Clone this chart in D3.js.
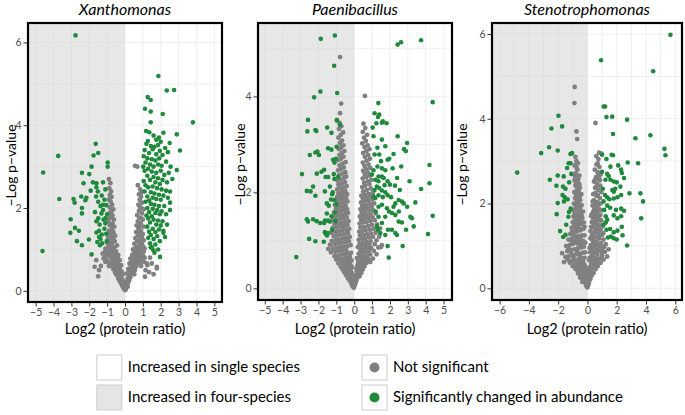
<!DOCTYPE html>
<html><head><meta charset="utf-8">
<script src="https://cdn.jsdelivr.net/npm/d3@7"></script>
<style>body{margin:0;background:#fff} svg{display:block} text{font-family:Lato,"Open Sans",sans-serif}</style>
</head><body>
<svg id="chart" width="685" height="415"></svg>
<script>
// ---------------- DATA ----------------
const titles = ["Xanthomonas", "Paenibacillus", "Stenotrophomonas"];
const xTitle = "Log2 (protein ratio)";
const yTitle = "\u2212Log p\u2212value";
const xTicksXan = [-5,-4,-3,-2,-1,0,1,2,3,4,5];
const xTicksPae = [-5,-4,-3,-2,-1,0,1,2,3,4,5];
const xTicksSte = [-6,-4,-2,0,2,4,6];
const yTicksXan = [0,2,4,6];
const yTicksPae = [0,2,4];
const yTicksSte = [0,2,4,6];
const legendShade = ["Increased in single species", "Increased in four-species"];
const legendPoint = ["Not significant", "Significantly changed in abundance"];

const xanGrey = [[0,0.02],[-0.05,0.05],[0.04,0.03],[-0.1,0.08],[0.08,0.09],[-0.02,0.12],[0.12,0.14],[-0.16,0.13],[-0.22,0.18],[0.18,0.2],[0.05,0.18],[-0.08,0.22],[-0.3,0.24],[0.24,0.26],[-0.15,0.27],[0.14,0.3],[-0.38,0.3],[0.3,0.33],[-0.25,0.35],[0.22,0.38],[-0.45,0.38],[-0.12,0.4],[0.38,0.41],[0.1,0.42],[-0.33,0.43],[-0.55,0.45],[0.45,0.46],[-0.2,0.47],[0.28,0.48],[-0.42,0.5],[0.55,0.5],[-0.65,0.52],[0.18,0.53],[-0.3,0.55],[0.4,0.55],[-0.52,0.57],[0.62,0.58],[-0.75,0.6],[0.33,0.6],[-0.22,0.62],[0.5,0.63],[-0.6,0.64],[0.75,0.65],[-0.85,0.66],[0.25,0.66],[-0.4,0.68],[0.58,0.69],[-0.95,0.7],[0.85,0.7],[-0.7,0.72],[0.42,0.72],[-0.3,0.74],[0.68,0.75],[-1.05,0.76],[0.95,0.77],[-0.5,0.78],[0.3,0.78],[-0.8,0.8],[0.55,0.8],[-1.15,0.82],[0.78,0.82],[-0.62,0.84],[1.0,0.85],[-0.38,0.86],[0.4,0.86],[-0.92,0.88],[0.65,0.88],[-1.25,0.9],[0.88,0.9],[-0.72,0.92],[0.5,0.92],[-0.5,0.95],[1.05,0.95],[-1.0,0.96],[0.72,0.97],[-0.82,1.0],[0.45,1.0],[-1.1,1.02],[0.9,1.02],[-0.6,1.05],[0.6,1.05],[-0.92,1.08],[1.0,1.08],[-0.45,1.1],[0.78,1.1],[-0.75,1.13],[0.52,1.14],[-1.0,1.16],[0.95,1.16],[-0.58,1.2],[0.68,1.2],[-0.85,1.22],[1.05,1.22],[-0.68,1.27],[0.58,1.27],[-0.95,1.3],[0.85,1.3],[-0.55,1.33],[0.72,1.34],[-0.8,1.37],[1.0,1.37],[-0.65,1.42],[0.62,1.42],[-0.9,1.45],[0.9,1.45],[-0.72,1.5],[0.75,1.5],[-0.6,1.55],[1.05,1.55],[-0.85,1.58],[0.65,1.58],[-0.7,1.63],[0.88,1.63],[-0.95,1.68],[0.72,1.68],[-0.62,1.72],[1.0,1.72],[-0.8,1.77],[0.8,1.77],[-0.7,1.82],[0.68,1.83],[-0.88,1.87],[0.95,1.87],[-0.75,1.92],[0.78,1.93],[-0.65,1.97],[1.05,1.97],[-0.85,2.02],[0.85,2.02],[-0.72,2.08],[0.75,2.08],[-0.8,2.15],[0.95,2.13],[-0.9,2.2],[0.82,2.2],[-0.75,2.27],[0.9,2.27],[-0.85,2.32],[0.78,2.33],[-0.78,2.4],[0.92,2.4],[-0.88,2.48],[0.85,2.45],[-0.82,2.6],[-0.9,2.7],[0.56,3.02],[0.69,3.0],[0.72,2.55],
[-1.61,0.74],[-1.7,0.58],[-1.45,0.5],[-1.35,0.6],[-1.5,0.35],[1.78,0.54],[1.5,0.66],[1.35,0.45],[1.6,0.4],[1.25,0.62],[1.15,0.5],[1.4,0.8],[1.12,0.34],[1.78,0.58],[1.22,0.66],
[-0.2,0.3],[0.2,0.25],[-0.35,0.5],[0.3,0.52],[-0.48,0.62],[0.45,0.65],[-0.55,0.72],[0.6,0.75],[-0.68,0.8],[0.72,0.83],[-0.78,0.88],[0.82,0.9],[-0.85,0.95],[0.62,0.96],[-0.7,1.0],[0.85,1.0],[-0.78,1.06],[0.7,1.07],[-0.88,1.12],[0.88,1.12],[-0.7,1.18],[0.8,1.2],[-0.78,1.3],[0.95,1.28],[-0.88,1.4],[0.78,1.4],[-0.78,1.6],[0.82,1.55],[-0.86,1.75],[0.92,1.75],[-0.8,1.98],[0.92,2.0],[-0.82,2.25],[0.88,2.35],[0.15,0.1],[-0.08,0.15],[0.1,0.22],[-0.5,0.4],[0.52,0.4],[-0.9,0.6],[0.9,0.6],[-1.1,0.7],[1.05,0.7],[-1.2,0.78],[1.1,0.8],[-1.0,0.86],[-1.12,0.94],[1.1,1.02],[0.35,0.7],[-0.42,0.8],[0.48,0.85],[-0.55,0.9]];

const xanGreen = [[-2.77,6.17],[-4.58,2.86],[-3.74,3.26],[-3.68,2.22],[-4.62,0.96],[-1.64,3.55],[-1.76,3.27],[-1.5,3.33],[-0.97,3.1],[-0.97,3.0],[-1.87,3.0],[-2.0,2.82],[-2.41,2.85],[-1.23,2.62],[-1.8,2.62],[-2.32,2.6],[-1.6,2.6],[-1.92,2.42],[-1.6,2.5],[-1.52,2.4],[-2.88,2.22],[-2.82,2.13],[-2.45,2.28],[-2.16,2.25],[-2.22,2.19],[-1.62,2.28],[-1.5,2.15],[-1.37,2.05],[-1.23,2.08],[-1.05,2.07],[-1.23,1.95],[-2.41,2.0],[-2.41,1.87],[-1.32,1.87],[-1.5,1.75],[-3.04,1.73],[-1.08,1.76],[-1.6,1.68],[-1.42,1.6],[-1.1,1.63],[-2.8,1.52],[-2.58,1.45],[-3.06,1.4],[-1.6,1.41],[-1.45,1.3],[-1.3,1.36],[-2.02,1.24],[-2.69,1.2],[-1.37,1.25],[-1.55,1.18],[-2.41,1.1],[-1.4,1.1],[-1.87,0.88],[-1.15,1.5],[-1.05,1.38],[-1.2,1.72],[-1.0,1.85],[-1.3,2.3],[-1.1,2.45],[-1.45,1.45],[-1.28,1.15],[-1.02,1.2],[-1.68,1.9],[-1.15,2.2],
[1.87,5.19],[2.34,4.84],[2.75,4.85],[1.27,4.68],[1.44,4.61],[1.12,4.4],[1.44,4.33],[2.11,4.27],[3.8,4.07],[1.44,4.07],[2.9,3.78],[3.08,3.39],[2.9,2.92],
[1.18,3.86],[1.36,3.83],[2.15,3.82],[1.6,3.75],[1.9,3.7],[1.75,3.65],[2.5,3.57],[1.28,3.62],[2.0,3.6],
[1.2,3.55],[1.45,3.5],[1.65,3.48],[1.85,3.52],[2.25,3.45],[1.55,3.42],[1.1,3.4],[1.95,3.38],[2.4,3.35],[1.35,3.33],[1.75,3.3],[2.1,3.28],[1.05,3.25],
[1.25,3.2],[1.5,3.18],[1.7,3.15],[1.92,3.2],[2.3,3.12],[1.15,3.1],[1.4,3.05],[1.6,3.0],[1.85,3.05],[2.05,3.02],[2.55,3.0],[1.02,3.0],[1.3,2.95],
[1.1,2.9],[1.5,2.88],[1.75,2.85],[2.0,2.9],[2.2,2.8],[2.45,2.85],[1.25,2.78],[1.6,2.75],[1.85,2.72],[2.1,2.68],[1.4,2.68],[1.05,2.65],[2.35,2.62],[1.7,2.62],[1.95,2.58],[2.65,2.7],
[1.15,2.55],[1.3,2.5],[1.55,2.52],[1.8,2.48],[2.05,2.45],[2.3,2.42],[2.52,2.4],[1.1,2.4],[1.45,2.38],[1.65,2.35],[1.9,2.32],[2.15,2.3],[1.25,2.28],[1.55,2.25],[1.75,2.22],[2.0,2.2],[2.4,2.25],[1.35,2.18],[2.52,2.13],
[1.15,2.15],[1.45,2.1],[1.65,2.08],[1.9,2.05],[2.2,2.05],[1.25,2.0],[1.55,1.98],[1.8,1.95],[2.05,1.92],[2.52,1.95],[1.35,1.9],[1.7,1.88],[1.95,1.85],[2.3,1.85],[1.2,1.82],[1.5,1.8],
[1.3,1.75],[1.6,1.72],[1.85,1.7],[2.1,1.68],[1.4,1.65],[1.75,1.6],[2.0,1.58],[2.35,1.6],[1.25,1.55],[1.55,1.5],[1.9,1.48],[2.15,1.45],[1.35,1.43],[1.7,1.42],
[2.15,1.4],[1.45,1.35],[1.8,1.32],[2.24,1.3],[1.3,1.28],[1.6,1.25],[1.95,1.2],[1.4,1.15],[1.7,1.12],[1.5,1.05],[1.59,0.98],[1.44,1.05],[1.85,1.0],[1.96,0.82],[1.65,0.92]];

const paeGrey = [[-0.02,0.01],[-0.08,0.04],[0.03,0.06],[-0.14,0.08],[-0.05,0.1],[0.08,0.11],[-0.2,0.13],[-0.1,0.15],[0.12,0.16],[-0.28,0.18],[-0.02,0.19],
[-0.35,0.21],[-0.18,0.23],[-0.08,0.25],[-0.45,0.27],[-0.28,0.29],[-0.12,0.31],[-0.55,0.33],[-0.38,0.35],[-0.2,0.37],[-0.65,0.39],
[-0.48,0.41],[-0.3,0.42],[-0.12,0.44],[-0.75,0.45],[-0.58,0.47],[-0.4,0.49],[-0.22,0.5],[-0.88,0.52],[-0.68,0.54],[-0.5,0.55],[-0.32,0.57],[-0.15,0.58],[-1.0,0.6],
[-0.8,0.61],[-0.6,0.62],[-0.42,0.64],[-0.25,0.66],[-1.1,0.67],[-0.92,0.68],[-0.72,0.7],[-0.52,0.71],[-0.35,0.73],[-0.18,0.74],[-1.3,0.75],[-1.05,0.76],[-0.85,0.78],[-0.65,0.79],[-0.45,0.8],
[-1.45,0.82],[-1.2,0.83],[-0.98,0.84],[-0.78,0.86],[-0.58,0.87],[-0.38,0.88],[-0.2,0.9],[-1.35,0.91],[-1.1,0.92],[-0.9,0.94],[-0.7,0.95],[-0.5,0.96],[-0.3,0.98],[-1.25,0.99],
[-1.02,1.01],[-0.82,1.02],[-0.62,1.04],[-0.42,1.05],[-0.25,1.07],[-1.15,1.09],[-0.95,1.1],[-0.75,1.12],[-0.55,1.13],[-0.35,1.15],[-1.28,1.16],[-1.05,1.18],[-0.85,1.19],
[-0.65,1.21],[-0.45,1.22],[-0.28,1.24],[-1.2,1.26],[-0.98,1.27],[-0.78,1.29],[-0.58,1.3],[-0.38,1.32],[-1.1,1.34],[-0.9,1.35],[-0.7,1.37],[-0.5,1.38],[-0.32,1.4],
[-1.18,1.42],[-0.98,1.43],[-0.8,1.45],[-0.6,1.46],[-0.42,1.48],[-1.05,1.5],[-0.88,1.52],[-0.68,1.53],[-0.5,1.55],[-0.35,1.57],[-1.12,1.58],[-0.95,1.6],
[-0.75,1.61],[-0.55,1.63],[-0.4,1.65],[-1.02,1.67],[-0.85,1.68],[-0.65,1.7],[-0.48,1.72],[-1.08,1.74],[-0.92,1.76],[-0.72,1.77],[-0.55,1.79],
[-0.38,1.81],[-1.0,1.83],[-0.82,1.85],[-0.62,1.86],[-0.45,1.88],[-0.95,1.9],[-0.75,1.92],[-0.55,1.94],[-0.4,1.96],[-0.88,1.98],
[-0.68,2.01],[-0.5,2.03],[-0.95,2.06],[-0.78,2.08],[-0.6,2.1],[-0.42,2.13],[-0.88,2.16],[-0.7,2.18],[-0.52,2.21],[-0.92,2.24],[-0.75,2.27],[-0.58,2.3],[-0.45,2.33],[-0.85,2.36],[-0.68,2.39],
[-0.5,2.42],[-0.9,2.46],[-0.72,2.49],[-0.58,2.52],[-0.82,2.56],[-0.65,2.6],[-0.48,2.63],[-0.9,2.67],[-0.75,2.7],[-0.6,2.74],[-0.82,2.78],
[-0.68,2.82],[-0.55,2.86],[-0.85,2.9],[-0.72,2.94],[-0.6,2.98],[-0.8,3.03],[-0.68,3.08],[-0.88,3.14],[-0.75,3.2],[-0.62,3.25],
[-0.85,3.32],[-0.72,3.38],[-0.97,3.51],[-0.82,3.45],[-0.79,3.65],[-0.73,3.85],[-0.79,4.82],
[0.05,0.2],[0.18,0.22],[0.3,0.25],[0.1,0.28],[0.22,0.3],[0.4,0.32],[0.15,0.35],[0.3,0.37],[0.48,0.39],
[0.12,0.41],[0.25,0.43],[0.4,0.45],[0.58,0.46],[0.18,0.48],[0.35,0.5],[0.52,0.51],[0.7,0.53],[0.9,0.55],[0.22,0.56],[0.42,0.58],[0.62,0.59],
[0.8,0.61],[1.05,0.62],[0.15,0.63],[0.32,0.65],[0.5,0.66],[0.7,0.68],[0.9,0.7],[1.25,0.71],[0.25,0.72],[0.45,0.74],[0.62,0.75],[0.82,0.77],[1.1,0.78],[0.35,0.8],
[0.55,0.81],[0.75,0.83],[0.95,0.84],[1.35,0.85],[0.2,0.86],[0.42,0.88],[0.62,0.89],[0.85,0.9],[1.55,0.9],[1.15,0.92],[0.3,0.93],[0.5,0.95],[0.7,0.96],[0.92,0.98],[1.5,0.86],
[1.25,1.0],[0.25,1.01],[0.42,1.03],[0.62,1.04],[0.82,1.06],[1.05,1.07],[1.4,1.08],[0.32,1.1],[0.52,1.11],[0.72,1.13],[0.95,1.14],[1.2,1.16],[0.28,1.18],[0.45,1.19],
[0.65,1.21],[0.88,1.22],[1.1,1.24],[1.45,1.25],[0.35,1.27],[0.55,1.28],[0.78,1.3],[1.0,1.32],[1.28,1.33],[0.3,1.35],[0.48,1.37],[0.68,1.38],[0.9,1.4],
[1.15,1.42],[0.38,1.43],[0.58,1.45],[0.8,1.47],[1.02,1.48],[0.32,1.5],[0.5,1.52],[0.7,1.53],[0.92,1.55],[1.2,1.56],[0.42,1.58],[0.62,1.6],
[0.85,1.62],[1.05,1.63],[0.35,1.65],[0.55,1.67],[0.75,1.68],[0.98,1.7],[0.45,1.72],[0.65,1.74],[0.88,1.76],[1.12,1.77],[0.38,1.79],
[0.58,1.81],[0.78,1.83],[1.0,1.85],[0.48,1.87],[0.68,1.89],[0.9,1.91],[0.4,1.93],[0.6,1.95],[0.82,1.97],[1.05,1.99],
[0.5,2.02],[0.7,2.05],[0.92,2.08],[0.45,2.11],[0.62,2.14],[0.85,2.17],[0.55,2.2],[0.75,2.23],[0.95,2.26],[0.48,2.29],[0.68,2.32],[0.88,2.35],[0.58,2.38],
[0.78,2.41],[0.5,2.45],[0.68,2.48],[0.9,2.51],[0.58,2.55],[0.8,2.58],[0.48,2.62],[0.7,2.66],[0.88,2.7],[0.6,2.74],[0.78,2.78],
[0.5,2.82],[0.68,2.86],[0.85,2.9],[0.58,2.94],[0.75,2.98],[0.45,3.02],[0.65,3.07],[0.55,3.14],[0.72,3.2],[0.48,3.26],[0.62,3.34],[0.52,3.43],[0.6,4.01]];

const paeGreen = [[-1.87,5.2],[-1.08,5.27],[-1.12,4.64],[-1.89,4.1],[-2.24,3.98],[-0.95,4.07],[-2.58,3.51],[-2.62,3.27],[-2.17,3.3],[-2.12,3.28],[-1.51,3.35],[-1.27,3.24],[-0.97,3.5],[-0.8,3.41],[-2.48,2.78],[-2.17,2.83],[-2.06,2.85],[-1.97,2.78],[-1.46,2.92],[-1.27,2.89],[-1.18,2.68],[-1.1,2.62],[-2.92,2.38],[-2.09,2.39],[-1.83,2.43],[-1.68,2.47],[-1.6,2.32],[-1.46,2.32],[-1.14,2.38],[-1.1,2.28],[-0.9,2.32],[-2.65,2.03],[-2.44,2.02],[-2.3,2.12],[-2.17,1.93],[-1.64,2.02],[-1.36,2.12],[-1.23,1.96],[-1.12,1.84],[-1.53,1.77],[-1.42,1.72],[-1.53,1.56],[-1.64,1.41],[-1.68,1.36],[-1.27,1.5],[-1.08,1.58],[-2.65,1.44],[-2.58,1.39],[-2.3,1.44],[-2.1,1.4],[-1.9,1.36],[-1.46,1.41],[-1.36,1.39],[-2.52,1.03],[-2.17,0.98],[-1.7,0.97],[-1.64,1.17],[-1.58,1.13],[-1.52,1.1],[-1.46,1.15],[-3.24,0.65],[-1.23,1.22],[-1.05,1.4],[-1.02,2.7],[-0.98,2.95],[-1.2,2.0],[-1.0,1.75],[-1.3,1.85],
[2.43,5.08],[2.62,5.13],[3.74,5.17],[4.39,3.88],[1.35,3.86],[1.14,3.65],[1.4,3.62],[1.33,3.57],[1.55,3.45],[1.6,3.48],[1.24,3.44],[1.81,3.44],[1.03,3.35],[2.43,3.17],[2.96,3.03],[2.79,2.9],[2.89,2.86],[1.08,3.17],[1.55,3.1],[1.74,2.96],[1.3,2.93],[1.4,2.79],[2.2,2.8],[1.14,2.79],[1.87,2.68],[1.96,2.7],[2.63,2.54],[1.3,2.54],[1.55,2.5],[1.74,2.46],[1.08,2.46],[0.99,2.37],[1.36,2.33],[1.55,2.33],[1.65,2.3],[1.18,2.26],[1.36,2.23],[1.87,2.23],[2.0,2.16],[3.1,2.23],[1.27,2.12],[1.4,2.09],[1.14,2.05],[1.55,2.04],[2.28,2.14],[2.55,2.05],[1.74,2.0],[1.36,1.94],[1.08,1.91],[1.18,1.88],[1.87,1.94],[2.06,1.9],[2.49,1.84],[2.67,1.81],[2.3,1.77],[2.77,1.77],[2.96,1.7],[1.36,1.7],[1.55,1.74],[1.83,1.67],[3.42,1.79],[3.74,2.07],[4.21,2.57],[4.21,2.19],[2.11,1.57],[2.3,1.53],[1.74,1.49],[1.36,1.49],[3.14,1.49],[3.23,1.46],[2.49,1.39],[2.67,1.37],[4.39,1.51],[3.33,1.29],[2.9,1.22],[1.55,1.36],[1.89,1.22],[2.11,1.22],[1.46,1.15],[1.74,1.11],[4.13,1.13],[2.71,0.88],[1.87,0.88],[1.93,0.64],[1.27,1.29],[1.33,1.22],[2.3,1.15],[2.39,1.11],[1.95,1.6],[2.2,1.7],[1.6,1.9],[2.4,2.3],[1.2,1.6],[1.7,2.15],[2.15,2.5],[1.5,2.65],[2.5,1.6]];

const steGrey = [[0,0.02],[-0.06,0.05],[0.05,0.07],[-0.12,0.1],[-0.03,0.12],[0.1,0.13],[-0.2,0.16],[-0.08,0.18],[0.15,0.2],[-0.28,0.22],[-0.15,0.24],[-0.38,0.28],[-0.22,0.3],[-0.08,0.32],[-0.48,0.34],[-0.3,0.36],[-0.15,0.38],[-0.6,0.4],[-0.42,0.42],[-0.25,0.44],[-0.1,0.46],[-0.75,0.48],[-0.55,0.5],[-0.35,0.52],[-0.18,0.54],[-0.9,0.56],[-0.68,0.58],[-0.48,0.6],[-0.28,0.62],[-1.1,0.64],[-0.85,0.66],[-0.62,0.68],[-0.4,0.7],[-0.2,0.72],[-1.5,0.74],[-1.25,0.76],[-1.0,0.78],[-0.78,0.8],[-0.55,0.82],[-0.32,0.84],[-1.73,0.83],[-1.38,0.88],[-1.12,0.9],[-0.9,0.92],[-0.68,0.94],[-0.45,0.96],[-0.25,0.98],[-1.45,1.0],[-1.2,1.02],[-0.98,1.05],[-0.75,1.07],[-0.52,1.1],[-0.3,1.12],[-1.3,1.15],[-1.05,1.18],[-0.82,1.2],[-0.6,1.23],[-0.38,1.25],[-1.18,1.28],[-0.95,1.31],[-0.7,1.34],[-0.48,1.37],[-0.28,1.4],[-1.08,1.43],[-0.85,1.46],[-0.62,1.49],[-0.4,1.52],[-1.0,1.56],[-0.78,1.6],[-0.55,1.63],[-0.35,1.66],[-0.95,1.7],[-0.72,1.74],[-0.5,1.78],[-0.3,1.81],[-1.02,1.85],[-0.82,1.88],[-0.6,1.92],[-0.4,1.96],[-0.92,2.0],[-0.7,2.04],[-0.5,2.08],[-0.85,2.13],[-0.62,2.18],[-0.42,2.22],[-0.9,2.27],[-0.7,2.32],[-0.52,2.37],[-0.82,2.43],[-0.62,2.48],[-0.88,2.55],[-0.7,2.6],[-0.55,2.66],[-0.8,2.72],[-0.68,2.8],[-0.88,2.9],[-0.75,3.0],[-0.7,3.52],[-0.75,3.7],[-0.89,4.37],[-0.87,4.75],
[-0.35,0.15],[-0.5,0.25],[-0.65,0.35],[-0.8,0.45],[-1.0,0.52],[-1.2,0.6],[-1.35,0.68],[-1.6,0.62],[-1.15,0.85],[-0.95,0.72],[-0.7,0.88],[-0.5,0.75],[-0.15,0.85],[-1.3,0.95],[-0.88,1.1],[-0.62,1.05],[-0.4,1.02],[-0.15,1.08],[-1.1,1.12],[-0.7,1.15],[-0.48,1.2],[-0.2,1.25],[-0.88,1.25],[-1.05,1.35],[-0.58,1.42],[-0.78,1.38],[-0.2,1.45],[-0.9,1.52],[-0.7,1.55],[-0.48,1.58],[-0.25,1.55],[-0.85,1.65],[-0.62,1.7],[-0.4,1.72],[-0.88,1.8],[-0.68,1.84],[-0.5,1.88],[-0.8,1.95],[-0.6,2.0],[-0.75,2.1],[-0.55,2.15],[-0.78,2.22],[-0.6,2.28],[-0.75,2.4],[-0.55,2.45],[-0.78,2.5],[-0.62,2.58],[-0.85,2.65],[-0.75,2.85],[-0.82,3.1],[-0.65,2.95],
[0.05,0.15],[0.2,0.22],[0.08,0.25],[0.3,0.3],[0.15,0.33],[0.42,0.36],[0.25,0.4],[0.08,0.42],[0.55,0.45],[0.35,0.48],[0.15,0.5],[0.7,0.52],[0.48,0.55],[0.25,0.58],[0.9,0.6],[0.62,0.62],[0.38,0.65],[0.12,0.66],[1.1,0.68],[0.8,0.7],[0.52,0.72],[0.28,0.75],[1.35,0.75],[1.0,0.78],[0.68,0.8],[0.42,0.82],[0.18,0.85],[1.2,0.86],[0.88,0.88],[0.58,0.9],[0.32,0.93],[1.45,0.92],[1.05,0.96],[0.75,0.98],[0.48,1.0],[0.22,1.02],[1.25,1.04],[0.92,1.07],[0.62,1.1],[0.38,1.12],[1.1,1.15],[0.8,1.18],[0.52,1.2],[0.28,1.23],[1.0,1.26],[0.7,1.29],[0.45,1.32],[0.2,1.35],[0.9,1.38],[0.62,1.41],[0.38,1.44],[1.05,1.47],[0.8,1.5],[0.55,1.53],[0.3,1.56],[0.95,1.6],[0.7,1.63],[0.48,1.66],[0.25,1.7],[0.88,1.73],[0.62,1.77],[0.4,1.8],[1.0,1.84],[0.78,1.88],[0.55,1.92],[0.35,1.95],[0.9,2.0],[0.68,2.04],[0.45,2.08],[0.85,2.13],[0.62,2.18],[0.4,2.22],[0.95,2.27],[0.75,2.32],[0.52,2.37],[0.88,2.42],[0.65,2.47],[0.45,2.52],[0.8,2.58],[0.6,2.63],[0.9,2.68],[0.7,2.74],[0.5,2.8],[0.82,2.86],[0.62,2.92],[0.75,3.05],[0.6,3.12],[0.95,3.18],[0.8,3.2],[0.55,3.9],
[0.35,0.6],[0.55,0.68],[0.75,0.62],[0.95,0.72],[0.15,0.72],[0.3,0.88],[0.55,0.85],[0.78,0.9],[1.0,0.88],[0.15,0.95],[0.4,1.05],[0.65,1.02],[0.85,1.0],[1.15,0.98],[0.3,1.15],[0.6,1.22],[0.85,1.25],[0.2,1.18],[0.35,1.3],[0.55,1.38],[0.8,1.35],[1.08,1.3],[0.25,1.45],[0.45,1.5],[0.68,1.48],[0.92,1.45],[0.38,1.6],[0.6,1.58],[0.82,1.62],[0.3,1.75],[0.52,1.72],[0.75,1.7],[0.45,1.85],[0.68,1.82],[0.88,1.85],[0.55,2.0],[0.75,1.98],[0.35,2.05],[0.55,2.25],[0.72,2.2],[0.55,2.58],[0.75,2.65],[0.7,2.95],[0.6,2.4],[0.85,2.55]];

const steGreen = [[-4.8,2.73],[-3.16,3.19],[-2.62,3.33],[-2.46,3.77],[-1.73,3.82],[-1.98,4.07],[-2.57,2.56],[-2.03,2.66],[-2.12,2.42],[-2.03,2.01],[-2.1,1.75],[-1.87,1.35],[-1.66,1.21],[-1.5,1.26],[-1.28,2.95],[-1.16,2.95],[-1.05,3.19],[-1.16,3.17],[-2.03,3.25],[-1.39,2.84],[-1.62,2.64],[-1.67,2.4],[-1.5,2.35],[-1.7,2.2],[-1.55,2.15],[-1.35,2.1],[-1.6,2.05],[-1.26,1.8],[-1.15,1.88],[-1.3,1.69],[-1.45,1.5],[-1.25,2.5],[-1.1,2.7],
[5.67,5.98],[0.93,5.38],[4.49,5.12],[1.11,4.29],[1.2,4.29],[1.3,4.04],[1.69,4.05],[2.71,3.98],[1.75,3.64],[3.28,3.54],[4.3,3.61],[5.26,3.29],[5.33,3.14],[1.75,3.14],[1.0,3.15],[2.75,2.97],[3.46,2.95],[2.3,2.8],[2.35,2.72],[2.87,2.24],[3.62,2.24],[3.8,2.05],[3.67,1.65],[2.71,1.01],
[1.57,2.87],[1.35,2.7],[1.45,2.65],[1.23,2.56],[1.57,2.56],[1.8,2.52],[2.0,2.5],[2.25,2.4],[1.7,2.32],[1.8,2.28],[1.9,2.35],[1.2,2.2],[1.35,2.15],[1.5,2.1],[1.8,2.12],[2.05,2.15],[2.3,2.2],[1.35,1.95],[1.55,1.9],[1.95,1.85],[2.3,1.88],[2.5,1.83],[1.25,1.7],[1.35,1.62],[1.25,1.55],[1.8,1.72],[2.05,1.65],[2.3,1.7],[1.55,1.4],[1.8,1.32],[2.05,1.36],[1.3,1.38],[1.6,1.22],[1.8,1.18],[2.0,1.15],[2.4,1.25],[2.35,1.45],[1.4,1.2],[1.1,1.5],[1.15,1.85],[1.05,2.35],[1.1,2.05],[1.3,3.05],[1.0,2.75],[2.1,2.9],[2.5,2.6],[1.65,3.15]];

// ---------------- LAYOUT ----------------
const FONT = 'Lato, "Open Sans", sans-serif';
const GREEN = "#1f8a3c", GREY = "#808080";
const svg = d3.select("#chart");
const fmt = d3.format("d");

const panels = [
  {title: titles[0], grey: xanGrey, green: xanGreen, xTicks: xTicksXan, yTicks: yTicksXan,
   xGrid: d3.range(-5, 6), yGrid: d3.range(0, 7),
   box: [28, 222, 23, 302], xd: [-5.43, 5.43], yd: [-0.27, 6.47], yTitleX: 10.5},
  {title: titles[1], grey: paeGrey, green: paeGreen, xTicks: xTicksPae, yTicks: yTicksPae,
   xGrid: d3.range(-5, 6), yGrid: d3.range(0, 6),
   box: [258, 452, 23, 300], xd: [-5.38, 5.47], yd: [-0.244, 5.53], yTitleX: 239},
  {title: titles[2], grey: steGrey, green: steGreen, xTicks: xTicksSte, yTicks: yTicksSte,
   xGrid: d3.range(-6, 7), yGrid: d3.range(0, 7),
   box: [492, 682, 23, 300], xd: [-6.52, 6.46], yd: [-0.276, 6.26], yTitleX: 461}
];

panels.forEach((p, i) => {
  const [x0, x1, y0, y1] = p.box;
  const x = d3.scaleLinear().domain(p.xd).range([x0, x1]);
  const y = d3.scaleLinear().domain(p.yd).range([y1, y0]);
  const clipId = "clip" + i;
  svg.append("clipPath").attr("id", clipId).append("rect")
    .attr("x", x0).attr("y", y0).attr("width", x1 - x0).attr("height", y1 - y0);
  const g = svg.append("g").attr("clip-path", `url(#${clipId})`);
  g.append("rect").attr("x", x0).attr("y", y0).attr("width", x1 - x0).attr("height", y1 - y0).attr("fill", "#fff");
  g.selectAll(".vg").data(p.xGrid).join("line")
    .attr("x1", d => x(d)).attr("x2", d => x(d)).attr("y1", y0).attr("y2", y1)
    .attr("stroke", "#ebebeb").attr("stroke-width", 0.8);
  g.selectAll(".hg").data(p.yGrid).join("line")
    .attr("y1", d => y(d)).attr("y2", d => y(d)).attr("x1", x0).attr("x2", x1)
    .attr("stroke", "#ebebeb").attr("stroke-width", 0.8);
  g.append("rect").attr("x", x0).attr("y", y0).attr("width", x(0) - x0).attr("height", y1 - y0)
    .attr("fill", "#d4d4d4").attr("opacity", 0.55);
  g.selectAll(".pg").data(p.grey).join("circle")
    .attr("cx", d => x(d[0])).attr("cy", d => y(d[1])).attr("r", 2.4).attr("fill", GREY);
  g.selectAll(".pgr").data(p.green).join("circle")
    .attr("cx", d => x(d[0])).attr("cy", d => y(d[1])).attr("r", 2.3).attr("fill", GREEN);
  svg.append("rect").attr("x", x0).attr("y", y0).attr("width", x1 - x0).attr("height", y1 - y0)
    .attr("fill", "none").attr("stroke", "#000").attr("stroke-width", 2.2);

  const ax = svg.append("g").attr("transform", `translate(0,${y1 + 1})`)
    .call(d3.axisBottom(x).tickValues(p.xTicks).tickFormat(fmt).tickSize(3.5).tickPadding(2));
  const ay = svg.append("g").attr("transform", `translate(${x0 - 1},0)`)
    .call(d3.axisLeft(y).tickValues(p.yTicks).tickFormat(fmt).tickSize(3.5).tickPadding(2));
  [ax, ay].forEach(a => {
    a.select(".domain").remove();
    a.selectAll(".tick line").attr("stroke", "#333");
    a.selectAll(".tick text").attr("fill", "#4d4d4d").style("font-size", "10.5px").style("font-family", FONT);
  });

  svg.append("text").attr("x", (x0 + x1) / 2).attr("y", 14.5).attr("text-anchor", "middle")
    .style("font-style", "italic").style("font-size", "16px").style("font-family", FONT).text(p.title);
  svg.append("text").attr("x", (x0 + x1) / 2).attr("y", 334).attr("text-anchor", "middle")
    .style("font-size", "14.5px").style("font-family", FONT).text(xTitle);
  svg.append("text").attr("transform", `translate(${p.yTitleX},${(y0 + y1) / 2 + 3}) rotate(-90)`)
    .attr("text-anchor", "middle").attr("dominant-baseline", "central")
    .style("font-size", "14px").style("font-family", FONT).text(yTitle);
});

// ---------------- LEGEND ----------------
const shadeFill = ["#ffffff", "#e5e5e5"];
const pointFill = [GREY, GREEN];
const shadeTexts = [0, 1].map(i => svg.append("text").attr("x", 300).attr("y", 372 + i * 30)
  .attr("text-anchor", "end").style("font-size", "15px").style("font-family", FONT).text(legendShade[i]));
const startX = 300 - shadeTexts[0].node().getComputedTextLength();
shadeTexts.forEach(t => t.attr("text-anchor", "start").attr("x", startX));
[0, 1].forEach(i => {
  const by = 355 + i * 30;
  svg.append("rect").attr("x", startX - 31).attr("y", by).attr("width", 25).attr("height", 25)
    .attr("fill", shadeFill[i]).attr("stroke", "#cccccc").attr("stroke-width", 1);
  svg.append("rect").attr("x", 362).attr("y", by).attr("width", 25).attr("height", 25)
    .attr("fill", "#fff").attr("stroke", "#cccccc").attr("stroke-width", 1);
  svg.append("circle").attr("cx", 374.5).attr("cy", by + 12.5).attr("r", 5).attr("fill", pointFill[i]);
  svg.append("text").attr("x", 393).attr("y", by + 17).style("font-size", "15px").style("font-family", FONT)
    .text(legendPoint[i]);
});
</script>
</body></html>
